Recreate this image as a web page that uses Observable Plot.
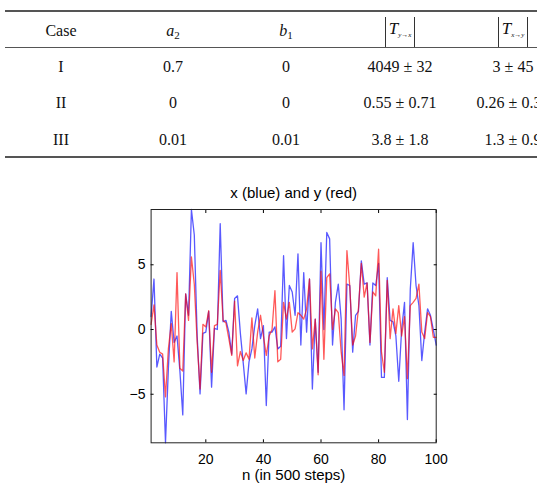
<!DOCTYPE html>
<html>
<head>
<meta charset="utf-8">
<script src="https://cdn.jsdelivr.net/npm/d3@7"></script>
<script src="https://cdn.jsdelivr.net/npm/@observablehq/plot@0.6"></script>
<style>
  html, body { margin: 0; padding: 0; background: #fff; }
  body { width: 537px; height: 490px; overflow: hidden; position: relative; }
  #table { position: absolute; left: 0; top: 0; width: 537px; height: 165px;
           font-family: "Liberation Serif", "Times New Roman", serif; font-size: 16px; color: #111; }
  .rule { position: absolute; left: 5px; width: 560px; background: #555; }
  .row { position: absolute; left: 0; height: 36px; line-height: 36px; width: 600px; }
  .cell { position: absolute; top: 0; width: 140px; text-align: center; white-space: nowrap; }
  .abs { display: inline-block; border-left: 1.2px solid #333; border-right: 1.2px solid #333;
         padding: 0 3px; line-height: 24px; vertical-align: middle; font-size: 17px; }
  .abs sub { font-size: 7px; font-style: italic; vertical-align: -3px; }
  .sub { font-size: 11px; vertical-align: -3px; }
  #chart { position: absolute; left: 0; top: 170px; }
</style>
</head>
<body>
<div id="table"></div>
<div id="chart"></div>
<script>
// Parameter table
const cases = ["I", "II", "III"];
const a2 = ["0.7", "0", "0.01"];
const b1 = ["0", "0", "0.01"];
const tYtoX = ["4049 ± 32", "0.55 ± 0.71", "3.8 ± 1.8"];
const tXtoY = ["3 ± 45", "0.26 ± 0.34", "1.3 ± 0.9"];
const headers = [
  "Case",
  "<i>a</i><span class='sub'>2</span>",
  "<i>b</i><span class='sub'>1</span>",
  "<span class='abs'><i>T</i><sub>y→x</sub></span>",
  "<span class='abs'><i>T</i><sub>x→y</sub></span>"
];

// Time series: x (blue) and y (red) over the first 100 samples
const steps = d3.range(1, 101);
const xSeries = [
  1.0, 3.9, -2.9, -1.9, -2.2, -8.75, -3.0, 1.4, -1.0, -0.5,
  -3.2, -6.6, 2.75, 1.1, 9.27, 7.3, -0.5, -4.97, -0.3, -0.2,
  1.4, -4.45, 0.1, 0.0, 8.17, 0.6, 0.7, -0.2, -1.9, 2.4,
  2.6, -0.3, -2.6, -4.97, -2.5, -1.5, 0.3, 1.6, -0.7, 0.3,
  -5.87, -0.2, -0.2, 0.2, -1.5, -1.3, 5.7, -0.7, 3.4, 2.9,
  1.1, 5.85, -1.2, 4.4, -0.2, 3.9, -4.6, 0.8, -3.3, 6.7,
  0.0, 7.5, 7.0, -1.2, 2.1, 3.5, 0.8, -6.2, 3.5, 3.4,
  -1.75, 1.1, 1.4, 5.3, 3.5, 3.6, -1.2, 3.6, 3.4, 5.1,
  -3.7, -3.7, 4.0, 0.7, 0.6, -0.5, -4.0, 0.0, 2.1, -6.95,
  3.1, 6.7, 3.4, 1.85, -2.4, -0.2, 1.6, 1.1, 0.0, -1.2
];
const ySeries = [
  0.4, 1.9, -1.2, -1.75, -1.9, -5.2, -1.5, 0.45, -2.5, 4.4,
  -3.0, -3.2, 2.75, 0.7, 5.6, 3.5, -1.0, -4.6, 0.4, 0.2,
  1.45, -3.3, 0.3, 0.4, 4.56, 0.7, 0.5, -0.7, -2.0, 2.2,
  -2.8, -1.7, -2.4, -1.8, -2.3, 0.9, -2.2, -0.2, 1.1, -0.5,
  -2.0, -0.5, 0.0, 3.0, -2.5, -2.3, 2.1, 0.8, 2.1, -0.2,
  0.05, 1.3, 1.1, 0.8, 1.6, 3.9, -1.5, 0.8, -3.5, 4.5,
  -2.3, 4.0, 4.3, 0.0, 1.6, 1.3, -1.75, -3.55, 6.1, 3.3,
  -1.2, -0.5, 1.6, 5.1, 2.5, 3.6, -1.0, 2.9, 2.6, 6.2,
  -1.75, -3.3, 3.8, -0.7, 1.6, -0.3, 1.85, -0.5, 1.0, -3.8,
  1.85, 2.1, 2.4, 3.5, -0.2, -0.7, 1.3, 1.0, -0.6, -0.6
];
const xTicks = [20, 40, 60, 80, 100];
const yTicks = [-5, 0, 5];
const titleText = "x (blue) and y (red)";
const xLabelText = "n (in 500 steps)";

// ---- table ----
const colCenters = [61, 173, 286, 400, 513];
const rowCenters = [31, 67, 103.3, 140.3];
const table = d3.select("#table");
[[10, 2], [47, 1], [156, 2]].forEach(([top, h]) =>
  table.append("div").attr("class", "rule").style("top", top + "px").style("height", h + "px"));
const rows = [headers, ...cases.map((c, i) => [c, a2[i], b1[i], tYtoX[i], tXtoY[i]])];
rows.forEach((cells, r) => {
  const row = table.append("div").attr("class", "row").style("top", (rowCenters[r] - 18) + "px");
  cells.forEach((html, c) => {
    row.append("div").attr("class", "cell")
      .style("left", (colCenters[c] - 70) + "px")
      .html(html);
  });
});

// ---- chart ----
const chart = Plot.plot({
  width: 537,
  height: 320,
  marginTop: 39,
  marginBottom: 47.7,
  marginLeft: 150.6,
  marginRight: 101.3,
  style: { fontFamily: "'Liberation Sans', Arial, sans-serif", fontSize: "14px", color: "#000", background: "#fff" },
  x: { domain: [1, 100] },
  y: { domain: [-8.75, 9.27] },
  marks: [
    Plot.lineY(xSeries, { x: steps, stroke: "#0000ff", strokeOpacity: 0.65, strokeWidth: 1.3 }),
    Plot.lineY(ySeries, { x: steps, stroke: "#ff0000", strokeOpacity: 0.65, strokeWidth: 1.3 }),
    Plot.frame({ stroke: "#222" }),
    Plot.axisX(xTicks, { anchor: "bottom", tickSize: 0, tickPadding: 11, label: null }),
    Plot.axisX(xTicks, { anchor: "bottom", tickSize: -3, tickFormat: () => "", label: null }),
    Plot.axisX(xTicks, { anchor: "top", tickSize: -3, tickFormat: () => "", label: null }),
    Plot.axisY(yTicks, { anchor: "left", tickSize: 0, tickPadding: 5.6, label: null }),
    Plot.axisY(yTicks, { anchor: "left", tickSize: -3, tickFormat: () => "", label: null }),
    Plot.axisY(yTicks, { anchor: "right", tickSize: -3, tickFormat: () => "", label: null }),
    Plot.text([titleText], { text: d => d, frameAnchor: "top", lineAnchor: "middle", dy: -16.3, fontSize: 15 }),
    Plot.text([xLabelText], { text: d => d, frameAnchor: "bottom", lineAnchor: "middle", dy: 32.7, fontSize: 15 })
  ]
});
document.getElementById("chart").appendChild(chart);
</script>
</body>
</html>
